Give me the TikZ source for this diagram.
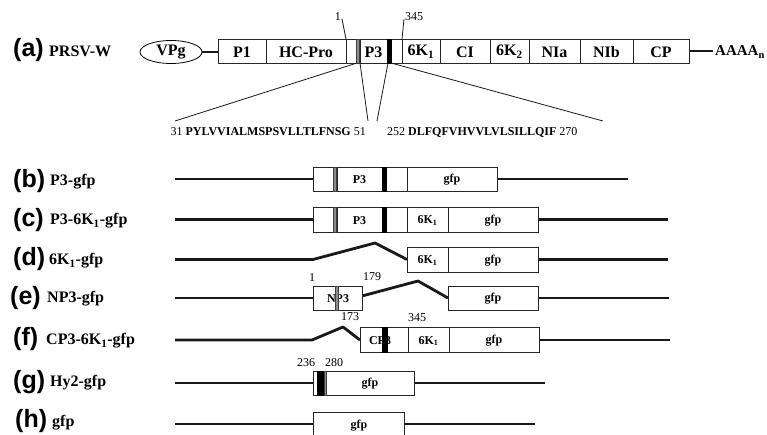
\documentclass[tikz,border=0pt]{standalone}
\usepackage{fontspec}
\setmainfont{Liberation Serif}
\newfontfamily\labfont{Liberation Sans}
\usetikzlibrary{shapes.geometric}
\begin{document}
\begin{tikzpicture}[x=1pt,y=-1pt,
  segbox/.style={draw=black!85, line width=0.9pt, fill=white},
  link/.style={line width=2.8pt, black!90},
  leadline/.style={line width=0.8pt, black!90},
  graybar/.style={fill=black!45, draw=black!75, line width=0.5pt},
  blackbar/.style={fill=black, draw=black, line width=0.3pt},
  rowtag/.style={font=\labfont\bfseries\fontsize{25}{25}\selectfont, anchor=west, inner sep=0pt},
  rowname/.style={font=\bfseries\fontsize{16}{16}\selectfont, anchor=west, inner sep=0pt},
  bigtxt/.style={font=\bfseries\fontsize{16}{16}\selectfont, inner sep=0pt},
  smalltxt/.style={font=\bfseries\fontsize{12}{12}\selectfont, inner sep=0pt},
  numtxt/.style={font=\fontsize{12}{12}\selectfont, inner sep=0pt},
  seqtxt/.style={font=\fontsize{12}{12}\selectfont, inner sep=0pt}]
\useasboundingbox (0,0) rectangle (767,435);
\clip (0,0) rectangle (767,435);

% ---------- (a) genome map ----------
\node[rowtag] (ta) at (13,50) {(a)};
\node[rowname] (na) at (49,51) {PRSV-W};
\node[draw, ellipse, line width=0.8pt, minimum width=62pt, minimum height=23pt, inner sep=0pt,
      font=\bfseries\fontsize{16}{16}\selectfont] (vpg) at (171,52) {VPg};
\coordinate (aL) at (218,52);
\coordinate (aR) at (689,51);
\coordinate (aT) at (713,51);
\draw[link] (vpg.east) -- (aL);
\draw[link] (aR) -- (aT);
\node[anchor=west, inner sep=0pt, font=\bfseries\fontsize{15}{15}\selectfont] (poly) at (715,52) {AAAA\textsubscript{n}};
\draw[segbox] (218,39) rectangle (689,63);
\foreach \x in {266,346,360,387,402,440,490,529,580,633} \draw[segbox] (\x,39) -- (\x,63);
\draw[graybar] (356,39) rectangle (359.5,63);
\draw[blackbar] (387,39) rectangle (391,63);
\node[bigtxt] (p1) at (242,52) {P1};
\node[bigtxt] (hc) at (306,52) {HC-Pro};
\node[bigtxt] (p3) at (373.5,52) {P3};
\node[bigtxt] (k1) at (421,52) {6K\textsubscript{1}};
\node[bigtxt] (ci) at (465,52) {CI};
\node[bigtxt] (k2) at (509.5,52) {6K\textsubscript{2}};
\node[bigtxt] (nia) at (554.5,52) {NIa};
\node[bigtxt] (nib) at (606.5,52) {NIb};
\node[bigtxt] (cp) at (661,52) {CP};

% position marks above the map
\node[numtxt, anchor=south east] (m1) at (341,21) {1};
\node[numtxt, anchor=south west] (m345) at (405,21) {345};
\coordinate (m1a) at (342,19);  \coordinate (m1b) at (346,39);
\coordinate (m3a) at (404,19);  \coordinate (m3b) at (402,39);
\draw[leadline] (m1a) -- (m1b);
\draw[leadline] (m3a) -- (m3b);

% expansion of the two hydrophobic stretches
\coordinate (g1) at (357,63);  \coordinate (g2) at (360,63);
\coordinate (b1) at (388,63);  \coordinate (b2) at (391,63);
\coordinate (e1) at (175,121); \coordinate (e2) at (368,121);
\coordinate (e3) at (377,121); \coordinate (e4) at (603,121);
\draw[leadline] (g1) -- (e1);
\draw[leadline] (g2) -- (e2);
\draw[leadline] (b1) -- (e3);
\draw[leadline] (b2) -- (e4);
\node[seqtxt, anchor=east] (s1) at (366,132) {31 \textbf{PYLVVIALMSPSVLLTLFNSG} 51};
\node[seqtxt, anchor=west] (s2) at (387,132) {252 \textbf{DLFQFVHVVLVLSILLQIF} 270};

% ---------- (b) P3-gfp ----------
\node[rowtag] (tb) at (13,181) {(b)};
\node[rowname] (nb) at (50,182) {P3-gfp};
\coordinate (bS) at (175,179); \coordinate (bL) at (313,179);
\coordinate (bR) at (497,179); \coordinate (bE) at (628,179);
\draw[link] (bS) -- (bL);
\draw[link] (bR) -- (bE);
\draw[segbox] (313,167) rectangle (497,191);
\foreach \x in {337,382,407} \draw[segbox] (\x,167) -- (\x,191);
\draw[graybar] (333,167) rectangle (336.5,191);
\draw[blackbar] (382,167) rectangle (386,191);
\node[smalltxt] (bp3) at (359.5,180) {P3};
\node[smalltxt] (bg) at (452,180) {gfp};

% ---------- (c) P3-6K1-gfp ----------
\node[rowtag] (tc) at (13,220) {(c)};
\node[rowname] (nc) at (50,221) {P3-6K\textsubscript{1}-gfp};
\coordinate (cS) at (175,219.5); \coordinate (cL) at (313,219.5);
\coordinate (cR) at (538,219.5); \coordinate (cE) at (668,219.5);
\draw[link] (cS) -- (cL);
\draw[link] (cR) -- (cE);
\draw[segbox] (313,207) rectangle (538,232);
\foreach \x in {337,382,407,448} \draw[segbox] (\x,207) -- (\x,232);
\draw[graybar] (333,207) rectangle (336.5,232);
\draw[blackbar] (382,207) rectangle (386,232);
\node[smalltxt] (cp3) at (359.5,220.5) {P3};
\node[smalltxt] (ck) at (427.5,220.5) {6K\textsubscript{1}};
\node[smalltxt] (cg) at (493,220.5) {gfp};

% ---------- (d) 6K1-gfp ----------
\node[rowtag] (td) at (13,259) {(d)};
\node[rowname] (nd) at (49,261) {6K\textsubscript{1}-gfp};
\coordinate (dS) at (175,259.5); \coordinate (dA) at (313,259.5);
\coordinate (dP) at (375,243);   \coordinate (dL) at (407,259.5);
\coordinate (dR) at (538,259.5); \coordinate (dE) at (668,259.5);
\draw[link, line join=round] (dS) -- (dA) -- (dP) -- (dL);
\draw[link] (dR) -- (dE);
\draw[segbox] (407,247) rectangle (538,272);
\draw[segbox] (448,247) -- (448,272);
\node[smalltxt] (dk) at (427.5,260.5) {6K\textsubscript{1}};
\node[smalltxt] (dg) at (493,260.5) {gfp};

% ---------- (e) NP3-gfp ----------
\node[rowtag] (te) at (10,298) {(e)};
\node[rowname] (ne) at (47,299) {NP3-gfp};
\coordinate (eS) at (175,298); \coordinate (eL) at (313,298);
\coordinate (eA) at (362,296); \coordinate (eP) at (418,281);
\coordinate (eB) at (448,298);
\coordinate (eR) at (538,298); \coordinate (eE) at (669,298);
\draw[link] (eS) -- (eL);
\draw[link, line join=round] (eA) -- (eP) -- (eB);
\draw[link] (eR) -- (eE);
\draw[segbox] (313,286) rectangle (362,310);
\draw[segbox] (448,286) rectangle (538,310);
\node[smalltxt] (enp) at (338,299) {NP3};
\draw[graybar] (335,286) rectangle (338,310);
\node[smalltxt] (eg) at (493,299) {gfp};
\node[numtxt] (e1n) at (312,278) {1};
\node[numtxt] (e179) at (372,277) {179};

% ---------- (f) CP3-6K1-gfp ----------
\node[rowtag] (tf) at (13,339) {(f)};
\node[rowname] (nf) at (46,341) {CP3-6K\textsubscript{1}-gfp};
\coordinate (fS) at (175,340); \coordinate (fA) at (312,340);
\coordinate (fP) at (343,327); \coordinate (fL) at (360,340);
\coordinate (fR) at (539,340); \coordinate (fE) at (670,340);
\draw[link, line join=round] (fS) -- (fA) -- (fP) -- (fL);
\draw[link] (fR) -- (fE);
\draw[segbox] (360,327) rectangle (539,352);
\foreach \x in {408,449} \draw[segbox] (\x,327) -- (\x,352);
\node[smalltxt] (fcp) at (380,341) {CP3};
\draw[blackbar] (382,327) rectangle (387,352);
\node[smalltxt] (fk) at (428.5,341) {6K\textsubscript{1}};
\node[smalltxt] (fg) at (494,341) {gfp};
\node[numtxt] (f173) at (350,317) {173};
\node[numtxt] (f345) at (417,318) {345};

% ---------- (g) Hy2-gfp ----------
\node[rowtag] (tg) at (13,382) {(g)};
\node[rowname] (ng) at (50,383) {Hy2-gfp};
\coordinate (gS) at (175,383); \coordinate (gL) at (313,383);
\coordinate (gR) at (414,383); \coordinate (gE) at (545,383);
\draw[link] (gS) -- (gL);
\draw[link] (gR) -- (gE);
\draw[segbox] (313,371) rectangle (414,395);
\draw[blackbar] (317,371) rectangle (323,395);
\draw[graybar] (324,371) rectangle (326,395);
\node[smalltxt] (gg) at (370,384) {gfp};
\node[numtxt] (g236) at (306,363) {236};
\node[numtxt] (g280) at (334,363) {280};

% ---------- (h) gfp ----------
\node[rowtag] (th) at (15,421) {(h)};
\node[rowname] (nh) at (52,423) {gfp};
\coordinate (hS) at (175,424); \coordinate (hL) at (313,424);
\coordinate (hR) at (404,424); \coordinate (hE) at (535,424);
\draw[link] (hS) -- (hL);
\draw[link] (hR) -- (hE);
\draw[segbox] (313,412) rectangle (404,445);
\node[smalltxt] (hg) at (359,426) {gfp};
\end{tikzpicture}
\end{document}
